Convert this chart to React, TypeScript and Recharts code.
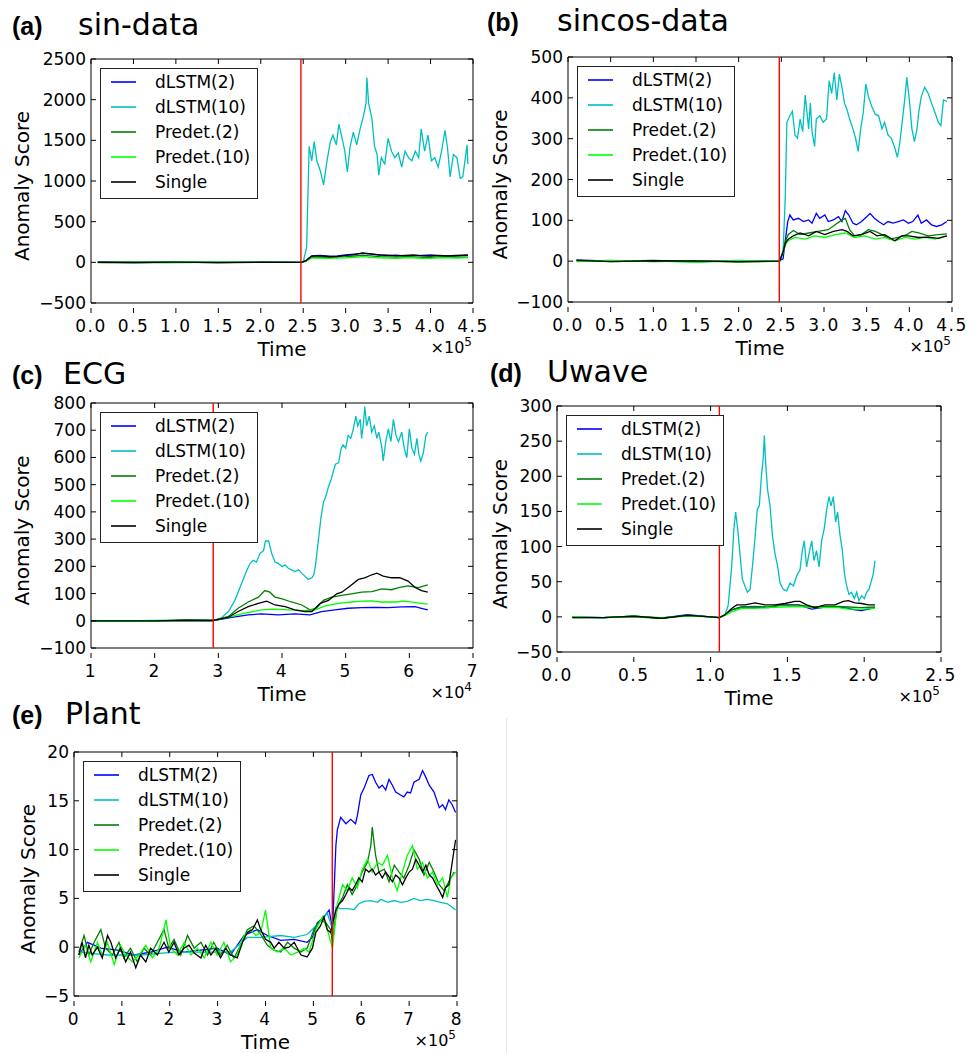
import { LineChart, Line, XAxis, YAxis, ReferenceLine, ReferenceArea, Legend } from 'recharts';

type Pt = [number, number];

const SERIES_NAMES = ['dLSTM(2)', 'dLSTM(10)', 'Predet.(2)', 'Predet.(10)', 'Single'];
const SERIES_COLORS = ['#0000ff', '#00bfbf', '#008000', '#00ff00', '#000000'];

// (a) sin-data, x in units of 1e5
const sinBlue: Pt[] = [[0.08,2],[0.5,-3],[1.0,2],[1.5,-2],[2.0,3],[2.47,0],[2.53,20],[2.6,80],[2.7,85],[2.8,75],[2.9,80],[3.0,90],[3.1,100],[3.2,110],[3.3,100],[3.4,90],[3.5,85],[3.6,88],[3.7,80],[3.8,82],[3.9,85],[4.0,90],[4.1,82],[4.2,78],[4.3,80],[4.44,85]];
const sinCyan: Pt[] = [[0.08,0],[0.5,-2],[1.0,1],[1.5,-1],[2.0,2],[2.48,0],[2.5,5],[2.54,185],[2.57,1425],[2.60,1248],[2.63,1484],[2.66,1248],[2.70,1130],[2.74,953],[2.78,1248],[2.82,1484],[2.85,1563],[2.89,1445],[2.92,1700],[2.95,1563],[2.99,1366],[3.02,1110],[3.05,1406],[3.09,1600],[3.13,1445],[3.17,1642],[3.21,1800],[3.24,1957],[3.25,2272],[3.27,1957],[3.31,1760],[3.34,1425],[3.37,1326],[3.39,1071],[3.42,1287],[3.46,1209],[3.50,1524],[3.54,1366],[3.58,1287],[3.62,1347],[3.66,1170],[3.70,1366],[3.74,1287],[3.78,1248],[3.82,1366],[3.86,1287],[3.89,1642],[3.93,1366],[3.97,1563],[4.01,1248],[4.05,1287],[4.09,1170],[4.13,1366],[4.17,1622],[4.20,1406],[4.23,1051],[4.27,1326],[4.31,1287],[4.35,1032],[4.38,1051],[4.43,1445],[4.44,1209]];
const sinPre2: Pt[] = [[0.08,-2],[0.5,1],[1.0,-3],[1.5,2],[2.0,-1],[2.48,0],[2.53,15],[2.6,65],[2.7,62],[2.8,58],[2.9,66],[3.0,70],[3.1,78],[3.2,85],[3.3,80],[3.4,70],[3.5,66],[3.6,64],[3.7,70],[3.8,68],[3.9,62],[4.0,60],[4.1,66],[4.2,70],[4.3,64],[4.44,65]];
const sinPre10: Pt[] = [[0.08,0],[0.5,-2],[1.0,1],[1.5,-2],[2.0,1],[2.48,0],[2.53,12],[2.6,55],[2.7,52],[2.8,48],[2.9,52],[3.0,55],[3.1,62],[3.2,70],[3.3,60],[3.4,55],[3.5,52],[3.6,48],[3.7,55],[3.8,56],[3.9,50],[4.0,48],[4.1,54],[4.2,55],[4.3,52],[4.44,58]];
const sinSingle: Pt[] = [[0.08,1],[0.5,-2],[1.0,2],[1.5,-3],[2.0,1],[2.48,0],[2.53,18],[2.6,75],[2.7,80],[2.8,72],[2.9,70],[3.0,85],[3.1,95],[3.2,115],[3.3,105],[3.4,92],[3.5,85],[3.6,80],[3.7,86],[3.8,90],[3.9,80],[4.0,78],[4.1,85],[4.2,78],[4.3,84],[4.44,90]];
const sinXTicks = [0, 0.5, 1, 1.5, 2, 2.5, 3, 3.5, 4, 4.5];
const sinYTicks = [-500, 0, 500, 1000, 1500, 2000, 2500];

// (b) sincos-data
const sincosBlue: Pt[] = [[0.1,3],[0.5,0],[1.0,2],[1.5,-1],[2.0,1],[2.45,0],[2.52,5],[2.54,40],[2.575,97],[2.60,113],[2.64,101],[2.70,105],[2.76,97],[2.82,101],[2.86,93],[2.91,117],[2.95,105],[3.01,113],[3.05,97],[3.11,101],[3.17,109],[3.21,97],[3.25,124],[3.29,113],[3.34,93],[3.38,89],[3.44,97],[3.50,109],[3.54,117],[3.59,105],[3.64,97],[3.70,89],[3.75,97],[3.81,93],[3.87,97],[3.93,101],[3.99,93],[4.04,97],[4.10,113],[4.14,93],[4.20,101],[4.26,89],[4.32,85],[4.38,89],[4.44,97]];
const sincosCyan: Pt[] = [[0.1,2],[0.5,-1],[1.0,1],[1.5,-2],[2.0,2],[2.48,0],[2.52,20],[2.545,150],[2.565,340],[2.60,356],[2.63,367],[2.66,309],[2.69,301],[2.72,348],[2.75,317],[2.78,407],[2.82,324],[2.84,387],[2.86,317],[2.89,281],[2.91,348],[2.95,356],[2.99,340],[3.03,348],[3.06,442],[3.09,411],[3.12,462],[3.15,395],[3.18,458],[3.21,426],[3.24,387],[3.27,371],[3.30,348],[3.34,324],[3.37,301],[3.40,269],[3.43,324],[3.46,364],[3.49,434],[3.52,403],[3.56,379],[3.60,360],[3.64,356],[3.68,324],[3.71,340],[3.75,309],[3.79,301],[3.83,277],[3.86,254],[3.89,293],[3.92,348],[3.95,403],[3.97,450],[4.00,395],[4.03,324],[4.06,293],[4.09,324],[4.11,364],[4.14,403],[4.18,426],[4.22,411],[4.26,387],[4.30,364],[4.34,340],[4.37,332],[4.40,395],[4.44,391]];
const sincosPre2: Pt[] = [[0.1,0],[0.5,2],[1.0,-1],[1.5,1],[2.0,-2],[2.48,0],[2.52,25],[2.55,50],[2.58,65],[2.64,75],[2.72,65],[2.82,69],[2.93,73],[3.05,77],[3.13,89],[3.21,101],[3.25,105],[3.30,77],[3.36,62],[3.44,65],[3.52,77],[3.60,73],[3.68,65],[3.77,54],[3.87,58],[3.97,65],[4.03,73],[4.11,69],[4.22,62],[4.34,65],[4.44,67]];
const sincosPre10: Pt[] = [[0.1,-1],[0.5,1],[1.0,0],[1.5,-2],[2.0,1],[2.48,0],[2.52,20],[2.55,42],[2.58,50],[2.66,58],[2.78,54],[2.89,62],[3.01,58],[3.13,65],[3.25,69],[3.36,58],[3.48,62],[3.60,54],[3.71,58],[3.83,50],[3.95,58],[4.07,54],[4.18,58],[4.30,54],[4.44,62]];
const sincosSingle: Pt[] = [[0.1,2],[0.5,-1],[1.0,1],[1.5,0],[2.0,-1],[2.48,0],[2.52,22],[2.55,45],[2.58,54],[2.64,62],[2.72,69],[2.82,62],[2.91,73],[3.01,65],[3.11,73],[3.21,77],[3.27,73],[3.34,62],[3.44,65],[3.54,73],[3.62,62],[3.71,65],[3.83,50],[3.91,62],[3.99,62],[4.11,58],[4.22,59],[4.34,56],[4.44,62]];
const sincosXTicks = [0, 0.5, 1, 1.5, 2, 2.5, 3, 3.5, 4, 4.5];
const sincosYTicks = [-100, 0, 100, 200, 300, 400, 500];

// (c) ECG, x in units of 1e4
const ecgBlue: Pt[] = [[1.0,0],[1.5,0],[2.0,0],[2.5,1],[2.92,1],[3.26,14],[3.47,22],[3.68,25],[3.94,22],[4.20,25],[4.44,22],[4.62,34],[4.83,40],[5.04,46],[5.25,48],[5.46,49],[5.67,48],[5.88,51],[6.09,52],[6.19,46],[6.29,40]];
const ecgCyan: Pt[] = [[1.0,0],[1.5,0],[2.0,1],[2.5,2],[2.92,1],[3.05,11],[3.16,34],[3.26,75],[3.37,140],[3.45,187],[3.50,211],[3.55,222],[3.60,216],[3.65,246],[3.71,258],[3.74,293],[3.79,293],[3.84,246],[3.89,216],[3.94,211],[4.00,199],[4.05,205],[4.10,193],[4.15,187],[4.20,181],[4.26,187],[4.31,175],[4.36,164],[4.41,152],[4.47,158],[4.50,170],[4.53,211],[4.57,293],[4.61,375],[4.65,434],[4.69,458],[4.73,493],[4.77,517],[4.81,552],[4.84,575],[4.89,581],[4.93,634],[4.96,646],[5.00,634],[5.04,681],[5.08,670],[5.12,705],[5.16,752],[5.19,716],[5.23,740],[5.25,670],[5.28,728],[5.30,787],[5.33,716],[5.37,752],[5.41,693],[5.45,716],[5.49,670],[5.52,693],[5.57,634],[5.59,587],[5.63,658],[5.67,705],[5.71,658],[5.75,740],[5.79,681],[5.83,658],[5.88,693],[5.92,634],[5.96,599],[6.00,705],[6.04,634],[6.08,611],[6.12,670],[6.15,611],[6.18,587],[6.22,617],[6.26,681],[6.29,693]];
const ecgPre2: Pt[] = [[1.0,0],[1.5,0],[2.0,0],[2.5,2],[2.92,1],[3.16,16],[3.31,46],[3.47,69],[3.63,87],[3.73,111],[3.81,105],[3.89,87],[3.99,81],[4.15,69],[4.31,58],[4.44,40],[4.54,46],[4.65,75],[4.78,87],[4.94,93],[5.09,99],[5.25,105],[5.41,107],[5.57,117],[5.72,114],[5.83,122],[5.98,128],[6.14,122],[6.29,132]];
const ecgPre10: Pt[] = [[1.0,0],[1.5,0],[2.0,0],[2.5,1],[2.92,1],[3.21,16],[3.42,28],[3.68,40],[3.89,43],[4.10,40],[4.36,37],[4.52,40],[4.68,55],[4.89,64],[5.09,69],[5.25,72],[5.41,73],[5.57,69],[5.78,69],[5.93,72],[6.09,67],[6.29,61]];
const ecgSingle: Pt[] = [[1.0,0],[1.5,0],[2.0,0],[2.5,2],[2.92,1],[3.16,13],[3.31,34],[3.47,52],[3.63,64],[3.76,72],[3.89,58],[4.05,52],[4.20,40],[4.36,34],[4.47,34],[4.60,64],[4.73,75],[4.86,99],[4.94,105],[5.07,128],[5.20,152],[5.30,158],[5.41,169],[5.49,175],[5.59,164],[5.72,158],[5.85,158],[5.98,146],[6.09,122],[6.19,111],[6.29,105]];
const ecgXTicks = [1, 2, 3, 4, 5, 6, 7];
const ecgYTicks = [-100, 0, 100, 200, 300, 400, 500, 600, 700, 800];

// (d) Uwave, x in units of 1e5
const uwaveBlue: Pt[] = [[0.1,0],[0.3,-1],[0.5,1],[0.68,-2],[0.85,3],[1.0,0],[1.057,-1],[1.094,3],[1.137,10],[1.202,14],[1.289,14],[1.376,13],[1.463,17],[1.571,17],[1.658,11],[1.745,14],[1.832,14],[1.897,12],[1.940,10],[1.983,9],[2.027,11],[2.070,13]];
const uwaveCyan: Pt[] = [[0.1,0],[0.3,-1],[0.5,1],[0.68,-2],[0.85,2],[1.0,0],[1.057,-1],[1.094,3],[1.115,17],[1.137,71],[1.152,126],[1.163,149],[1.176,126],[1.191,90],[1.207,53],[1.224,44],[1.239,35],[1.257,39],[1.272,71],[1.289,112],[1.304,153],[1.317,158],[1.332,203],[1.343,226],[1.350,258],[1.359,217],[1.371,181],[1.387,158],[1.402,117],[1.419,90],[1.437,71],[1.452,48],[1.474,39],[1.495,37],[1.517,48],[1.539,44],[1.560,58],[1.582,67],[1.597,94],[1.610,108],[1.625,71],[1.641,90],[1.658,108],[1.673,80],[1.690,94],[1.706,71],[1.723,108],[1.740,126],[1.756,153],[1.771,171],[1.784,158],[1.799,171],[1.814,135],[1.827,149],[1.842,117],[1.858,94],[1.871,62],[1.886,44],[1.901,32],[1.918,35],[1.936,26],[1.951,35],[1.966,23],[1.983,30],[2.001,26],[2.016,35],[2.031,39],[2.049,53],[2.060,62],[2.070,80]];
const uwavePre2: Pt[] = [[0.1,-1],[0.3,-1],[0.5,0],[0.68,-2],[0.85,2],[1.0,0],[1.057,-1],[1.094,3],[1.137,10],[1.202,14],[1.289,15],[1.376,14],[1.463,17],[1.571,17],[1.658,14],[1.745,15],[1.832,15],[1.897,14],[1.983,13],[2.070,14]];
const uwavePre10: Pt[] = [[0.1,0],[0.3,-1],[0.5,1],[0.68,-1],[0.85,1],[1.0,0],[1.057,-1],[1.094,2],[1.137,7],[1.202,12],[1.289,12],[1.376,13],[1.463,14],[1.571,15],[1.658,13],[1.745,13],[1.832,13],[1.897,11],[1.983,11],[2.070,12]];
const uwaveSingle: Pt[] = [[0.1,-1],[0.3,-1],[0.5,1],[0.68,-2],[0.85,2],[1.0,0],[1.057,-1],[1.094,3],[1.137,12],[1.170,17],[1.224,17],[1.289,20],[1.354,17],[1.419,17],[1.484,19],[1.549,22],[1.582,22],[1.625,17],[1.680,13],[1.745,17],[1.810,17],[1.864,22],[1.897,23],[1.940,20],[1.983,19],[2.027,17],[2.070,17]];
const uwaveXTicks = [0, 0.5, 1, 1.5, 2, 2.5];
const uwaveYTicks = [-50, 0, 50, 100, 150, 200, 250, 300];

// (e) Plant, x in units of 1e5
const plantBlue: Pt[] = [[0.10,-0.8],[0.28,0.5],[0.56,-0.1],[0.91,-0.3],[1.25,-0.8],[1.60,-0.5],[1.95,0],[2.30,-0.5],[2.65,-0.3],[2.99,-0.1],[3.27,-0.8],[3.55,1.2],[3.83,1.8],[4.04,1.2],[4.32,0.7],[4.60,0.8],[4.87,0.5],[4.98,1.0],[5.08,2.5],[5.22,3.1],[5.33,3.8],[5.40,1.8],[5.47,10.4],[5.50,12.0],[5.57,13.3],[5.68,12.65],[5.78,13.1],[5.88,12.65],[5.92,13.5],[5.99,15.6],[6.06,16.3],[6.16,17.6],[6.23,17.7],[6.30,16.9],[6.37,16.3],[6.44,16.6],[6.51,16.1],[6.58,17.2],[6.65,16.6],[6.72,15.9],[6.82,15.6],[6.89,15.4],[6.96,15.9],[7.03,15.8],[7.10,16.9],[7.21,17.2],[7.28,18.1],[7.35,17.4],[7.42,16.6],[7.52,15.9],[7.63,14.3],[7.70,14.6],[7.76,14.1],[7.83,15.1],[7.90,14.6],[7.97,13.8]];
const plantCyan: Pt[] = [[0.10,-0.5],[0.70,-0.8],[1.39,-0.8],[2.09,-0.5],[2.79,-0.5],[3.27,-0.5],[3.62,1.0],[3.90,1.0],[4.32,1.2],[4.60,1.0],[4.87,1.3],[5.08,2.3],[5.29,3.5],[5.40,1.8],[5.47,4.1],[5.57,3.96],[5.71,3.96],[5.85,3.86],[5.95,4.45],[6.06,4.7],[6.20,4.78],[6.34,4.6],[6.41,4.9],[6.55,4.6],[6.69,4.78],[6.82,4.6],[6.96,4.7],[7.10,5.0],[7.24,4.78],[7.38,4.9],[7.52,4.78],[7.66,4.6],[7.80,4.45],[7.90,4.1],[7.97,3.8]];
const plantPre2: Pt[] = [[0.10,-0.5],[0.21,1.2],[0.31,-0.8],[0.42,0.5],[0.56,1.8],[0.66,-0.1],[0.80,-0.8],[0.94,0.5],[1.04,-1.1],[1.18,-0.1],[1.32,-1.5],[1.46,-0.1],[1.60,-0.8],[1.74,0.5],[1.88,1.8],[1.98,-0.1],[2.09,0.8],[2.23,-0.8],[2.37,1.2],[2.51,-0.1],[2.65,0.5],[2.79,-0.8],[2.92,0.5],[3.06,-0.8],[3.20,0.2],[3.34,-1.1],[3.48,0.2],[3.62,1.8],[3.76,2.2],[3.90,1.3],[4.04,0.2],[4.18,-0.3],[4.32,-0.5],[4.46,0.5],[4.60,-0.1],[4.74,-0.5],[4.87,-0.1],[5.01,1.8],[5.15,2.8],[5.26,2.5],[5.36,1.8],[5.40,0.5],[5.43,1.8],[5.50,4.1],[5.61,5.1],[5.71,6.4],[5.81,5.4],[5.92,6.4],[6.02,7.7],[6.13,8.7],[6.20,10.4],[6.23,12.3],[6.30,9.4],[6.37,7.7],[6.48,8.0],[6.58,6.7],[6.69,8.4],[6.79,7.7],[6.89,7.1],[7.00,8.4],[7.10,10.0],[7.21,9.0],[7.31,7.4],[7.42,8.7],[7.52,7.7],[7.63,6.4],[7.73,5.8],[7.83,6.7],[7.94,7.7]];
const plantPre10: Pt[] = [[0.10,-1.1],[0.24,0.2],[0.35,-1.5],[0.49,0.5],[0.59,-0.8],[0.70,0.5],[0.84,-1.8],[0.97,0.2],[1.08,-0.8],[1.22,-1.5],[1.36,-0.8],[1.50,0.2],[1.64,-1.1],[1.78,-0.1],[1.92,2.8],[2.02,-0.1],[2.16,-0.8],[2.30,0.5],[2.44,-0.8],[2.58,-0.1],[2.72,-1.1],[2.86,0.5],[2.99,-0.8],[3.13,0.5],[3.27,-1.5],[3.41,-0.8],[3.55,1.2],[3.69,1.8],[3.80,1.2],[3.90,1.5],[4.00,3.8],[4.11,-0.1],[4.25,-0.5],[4.39,-0.1],[4.53,-0.8],[4.67,-0.5],[4.81,-0.1],[4.91,-0.5],[5.05,1.8],[5.19,3.1],[5.29,1.8],[5.40,-0.1],[5.50,4.45],[5.61,6.4],[5.71,5.8],[5.81,7.1],[5.92,6.1],[6.02,8.0],[6.13,9.0],[6.23,7.7],[6.34,8.7],[6.44,8.4],[6.55,9.4],[6.65,7.1],[6.75,5.8],[6.86,7.7],[6.96,9.4],[7.07,10.4],[7.17,8.0],[7.28,8.7],[7.38,7.1],[7.49,7.7],[7.59,6.4],[7.70,7.1],[7.80,5.1],[7.87,7.1],[7.97,7.7]];
const plantSingle: Pt[] = [[0.10,-0.8],[0.17,0.5],[0.24,-1.1],[0.31,0.2],[0.38,-0.8],[0.49,0],[0.59,-1.1],[0.70,1.2],[0.77,0.5],[0.87,-1.1],[0.97,-0.1],[1.08,-1.5],[1.18,-0.5],[1.29,-2.1],[1.39,-0.8],[1.50,-1.5],[1.60,-0.1],[1.74,-0.8],[1.88,0.5],[1.98,-0.5],[2.09,0.5],[2.19,-0.8],[2.30,-0.1],[2.40,0.2],[2.51,-0.6],[2.65,-1.1],[2.75,0.2],[2.86,-0.8],[2.96,-0.1],[3.06,-1.1],[3.17,-0.1],[3.27,-0.8],[3.41,-1.1],[3.52,0.5],[3.62,1.5],[3.73,1.8],[3.83,2.8],[3.90,1.8],[4.00,0.8],[4.11,0.5],[4.18,-0.1],[4.28,0.5],[4.39,-0.1],[4.49,0],[4.60,0.5],[4.74,-0.8],[4.87,-1.0],[4.98,-0.1],[5.05,1.5],[5.15,2.2],[5.22,3.1],[5.29,1.8],[5.36,1.5],[5.42,2.8],[5.47,3.8],[5.54,4.45],[5.61,4.78],[5.68,5.4],[5.75,6.1],[5.81,5.8],[5.88,6.4],[5.95,7.1],[6.02,6.7],[6.09,8.0],[6.16,7.7],[6.23,8.0],[6.30,7.4],[6.37,7.7],[6.44,7.1],[6.51,7.7],[6.58,7.2],[6.65,6.7],[6.72,7.4],[6.79,7.1],[6.86,6.4],[6.93,7.1],[7.00,7.7],[7.07,8.0],[7.14,9.0],[7.21,8.4],[7.28,7.7],[7.35,8.4],[7.42,7.4],[7.49,7.1],[7.56,6.4],[7.63,5.8],[7.70,5.1],[7.76,6.1],[7.83,6.4],[7.90,8.7],[7.97,11.0]];
const plantXTicks = [0, 1, 2, 3, 4, 5, 6, 7, 8];
const plantYTicks = [-5, 0, 5, 10, 15, 20];

const FONT = '"DejaVu Sans", sans-serif';

const PANELS = [
  { tag: '(a)', title: 'sin-data', tagX: 12, titleX: 78, baseY: 35, plot: { l: 91, t: 59, r: 473, b: 313 },
    series: [sinBlue, sinCyan, sinPre2, sinPre10, sinSingle], xTicks: sinXTicks, yTicks: sinYTicks,
    anomalyAt: 2.473, exp: '5', decimals: 1, yLabelX: 22 },
  { tag: '(b)', title: 'sincos-data', tagX: 487, titleX: 557, baseY: 31, plot: { l: 568, t: 57, r: 952, b: 312 },
    series: [sincosBlue, sincosCyan, sincosPre2, sincosPre10, sincosSingle], xTicks: sincosXTicks, yTicks: sincosYTicks,
    anomalyAt: 2.476, exp: '5', decimals: 1, yLabelX: 500 },
  { tag: '(c)', title: 'ECG', tagX: 12, titleX: 63, baseY: 384, plot: { l: 91, t: 403, r: 473, b: 658 },
    series: [ecgBlue, ecgCyan, ecgPre2, ecgPre10, ecgSingle], xTicks: ecgXTicks, yTicks: ecgYTicks,
    anomalyAt: 2.92, exp: '4', decimals: 0, yLabelX: 22 },
  { tag: '(d)', title: 'Uwave', tagX: 490, titleX: 547, baseY: 382, plot: { l: 557, t: 406, r: 941, b: 662 },
    series: [uwaveBlue, uwaveCyan, uwavePre2, uwavePre10, uwaveSingle], xTicks: uwaveXTicks, yTicks: uwaveYTicks,
    anomalyAt: 1.057, exp: '5', decimals: 1, yLabelX: 500 },
  { tag: '(e)', title: 'Plant', tagX: 12, titleX: 65, baseY: 724, plot: { l: 74, t: 752, r: 457, b: 1006 },
    series: [plantBlue, plantCyan, plantPre2, plantPre10, plantSingle], xTicks: plantXTicks, yTicks: plantYTicks,
    anomalyAt: 5.395, exp: '5', decimals: 0, yLabelX: 28 },
];

const minus = (v: number, d = 0) => (v < 0 ? '\u2212' + Math.abs(v).toFixed(d) : v.toFixed(d));

// legend keeps the plotting order, not recharts' alphabetical one
const renderLegend = (props: any) => {
  const items = [...(props.payload || [])].sort(
    (a: any, b: any) => SERIES_NAMES.indexOf(a.value) - SERIES_NAMES.indexOf(b.value)
  );
  return (
    <svg width={158} height={131} style={{ display: 'block' }}>
      <rect x={0.5} y={0.5} width={157} height={130} fill="#fff" stroke="#222" strokeWidth={1} />
      {items.map((e: any, i: number) => (
        <g key={i}>
          <line x1={11} x2={36} y1={14 + i * 25} y2={14 + i * 25} stroke={e.color} strokeWidth={1.6} />
          <text x={55} y={20 + i * 25} fontSize={17} fontFamily={FONT} fill="#000">{e.value}</text>
        </g>
      ))}
    </svg>
  );
};

function Panel({ p }: { p: (typeof PANELS)[number] }) {
  const L = p.plot.l - 80;
  const T = p.plot.t - 10;
  const pw = p.plot.r - p.plot.l;
  const ph = p.plot.b - p.plot.t;
  const pl = 80, pt = 10, pr = 80 + pw, pb = 10 + ph;
  const xDomain = [p.xTicks[0], p.xTicks[p.xTicks.length - 1]];
  const yDomain = [p.yTicks[0], p.yTicks[p.yTicks.length - 1]];

  const xTick = ({ x, payload }: any) => (
    <g>
      <line x1={x} x2={x} y1={pb} y2={pb - 5} stroke="#000" />
      <line x1={x} x2={x} y1={pt} y2={pt + 5} stroke="#000" />
      <text x={x} y={pb + 19} textAnchor="middle" fontSize={17} letterSpacing={1.5} fontFamily={FONT} fill="#000">
        {minus(payload.value, p.decimals)}
      </text>
    </g>
  );
  const yTick = ({ y, payload }: any) => (
    <g>
      <line x1={pl} x2={pl + 5} y1={y} y2={y} stroke="#000" />
      <line x1={pr - 5} x2={pr} y1={y} y2={y} stroke="#000" />
      <text x={pl - 5} y={y + 6} textAnchor="end" fontSize={17} fontFamily={FONT} fill="#000">
        {minus(payload.value)}
      </text>
    </g>
  );

  return (
    <div style={{ position: 'absolute', left: L, top: T }}>
      <LineChart width={pw + 110} height={ph + 40} margin={{ top: 10, left: 30, right: 30, bottom: 10 }}>
        <XAxis type="number" dataKey="x" domain={xDomain} ticks={p.xTicks} interval={0} allowDataOverflow
          axisLine={false} tickLine={false} height={30} tick={xTick} />
        <YAxis type="number" dataKey="y" domain={yDomain} ticks={p.yTicks} interval={0} allowDataOverflow
          axisLine={false} tickLine={false} width={50} tick={yTick} />
        {p.series.map((s, i) => (
          <Line key={SERIES_NAMES[i]} data={s.map(([x, y]) => ({ x, y }))} dataKey="y" name={SERIES_NAMES[i]}
            stroke={SERIES_COLORS[i]} strokeWidth={1.3} dot={false} isAnimationActive={false} />
        ))}
        <ReferenceLine x={p.anomalyAt} stroke="#ff0000" strokeWidth={1.4} />
        <ReferenceArea x1={xDomain[0]} x2={xDomain[1]} y1={yDomain[0]} y2={yDomain[1]}
          fill="none" stroke="#000" strokeWidth={1} ifOverflow="visible" />
        <Legend layout="vertical" align="center" verticalAlign="middle" content={renderLegend}
          wrapperStyle={{ left: pl + 8.5, top: pt + 8.5, width: 158, height: 131 }} />
      </LineChart>
    </div>
  );
}

export default function App() {
  return (
    <div style={{ position: 'absolute', left: 0, top: 0, width: 977, height: 1053, background: '#fff', overflow: 'hidden', fontFamily: FONT }}>
      <div style={{ position: 'absolute', left: 506, top: 718, width: 1, height: 335, background: '#e8e8e8' }} />
      {PANELS.map((p) => <Panel key={p.tag} p={p} />)}
      <svg width={977} height={1053} style={{ position: 'absolute', left: 0, top: 0, pointerEvents: 'none' }}>
        {PANELS.map((p) => {
          const cx = (p.plot.l + p.plot.r) / 2;
          const cy = (p.plot.t + p.plot.b) / 2;
          return (
            <g key={p.tag} fill="#000">
              <text x={p.tagX} y={p.baseY} fontSize={25} fontWeight="bold" fontFamily='"Liberation Sans", Arial, sans-serif'>{p.tag}</text>
              <text x={p.titleX} y={p.baseY} fontSize={30} fontFamily={FONT}>{p.title}</text>
              <text x={cx} y={p.plot.b + 43} fontSize={20} textAnchor="middle" fontFamily={FONT}>Time</text>
              <text x={p.plot.r - 1} y={p.plot.b + 40} fontSize={16} textAnchor="end" fontFamily={FONT}>
                ×10<tspan dy={-7} fontSize={12}>{p.exp}</tspan>
              </text>
              <text x={p.yLabelX} y={cy} fontSize={20} textAnchor="middle" dominantBaseline="central" fontFamily={FONT}
                transform={`rotate(-90 ${p.yLabelX} ${cy})`}>Anomaly Score</text>
            </g>
          );
        })}
      </svg>
    </div>
  );
}
